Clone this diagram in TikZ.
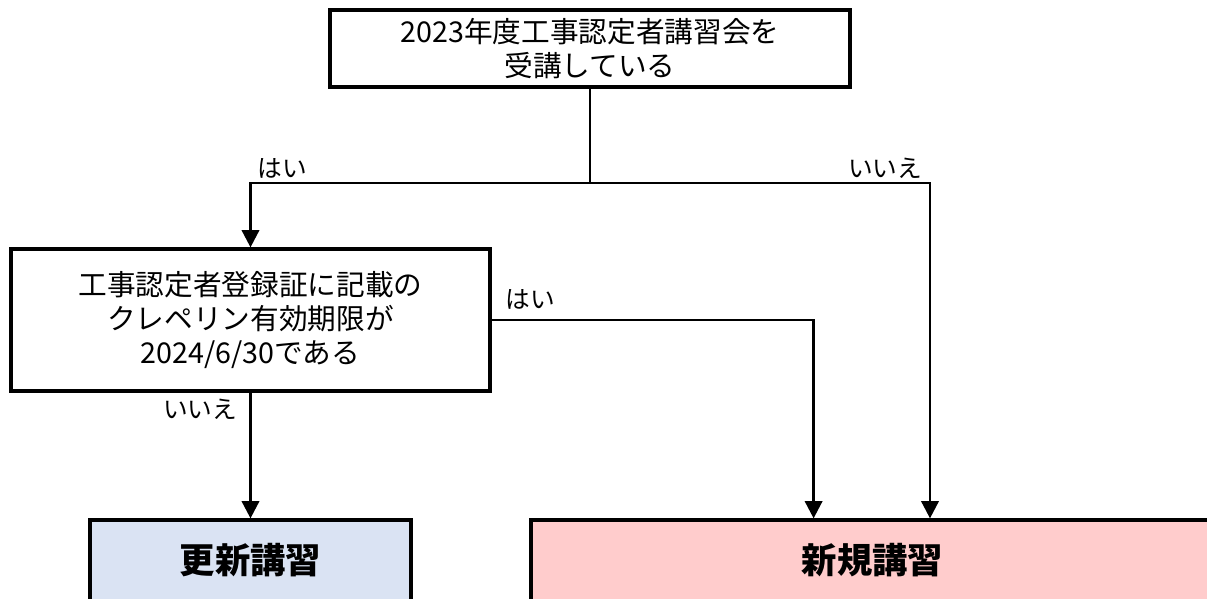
\documentclass[tikz,border=0pt]{standalone}
\usepackage{fontspec}
\setmainfont{Noto Sans CJK JP}
\usepackage{xcolor}
\definecolor{lightblue}{HTML}{DAE3F3}
\definecolor{lightpink}{HTML}{FFCCCC}
\usetikzlibrary{arrows.meta}
\usetikzlibrary{calc}
\tikzset{
    common/.style={draw, rectangle, line width=2.4pt, inner sep=0pt, align=center},
    question/.style={common, font=\fontsize{21.5pt}{25.5pt}\selectfont},
    course/.style={common, font=\fontsize{26.5pt}{30pt}\selectfont\bfseries},
    answer/.style={inner sep=0pt, font=\fontsize{18.5pt}{22pt}\selectfont},
    flow/.style={line width=2pt, -{Triangle[width=13pt, length=13pt]}}
}

\begin{document}
\begin{tikzpicture}[x=0.75pt, y=-0.75pt]
    \clip (0,0) rectangle (1207,599);

    \node[question, minimum width=390pt, minimum height=57.75pt] (attended) at (590,48.5)
        {2023年度工事認定者講習会を\\受講している};
    \node[question, minimum width=359.25pt, minimum height=106.5pt] (expiry) at (250.5,320)
        {工事認定者登録証に記載の\\クレペリン有効期限が\\2024/6/30である};
    \node[course, fill=lightblue, minimum width=240.75pt, minimum height=60.75pt] (renewal) at (250.5,560.5) {更新講習};
    \node[course, fill=lightpink, minimum width=512.25pt, minimum height=60.75pt] (newcourse) at (872.5,560.5) {新規講習};

    \coordinate (split) at (590,183);
    \coordinate (no-turn) at (930,183);
    \coordinate (yes-turn) at ($(expiry.east)+(322,0)$);

    \draw[flow] (attended.south) -- (split) -| (expiry.north);
    \draw[flow] (split) -- (no-turn) -- (no-turn |- newcourse.north);
    \draw[flow] (expiry.east) -- (yes-turn) -- (yes-turn |- newcourse.north);
    \draw[flow] (expiry.south) -- (renewal.north);

    \node[answer] (attended-yes) at (282,168) {はい};
    \node[answer] (attended-no) at (885,168) {いいえ};
    \node[answer] (expiry-yes) at (530,299) {はい};
    \node[answer] (expiry-no) at (200,409) {いいえ};
\end{tikzpicture}
\end{document}
